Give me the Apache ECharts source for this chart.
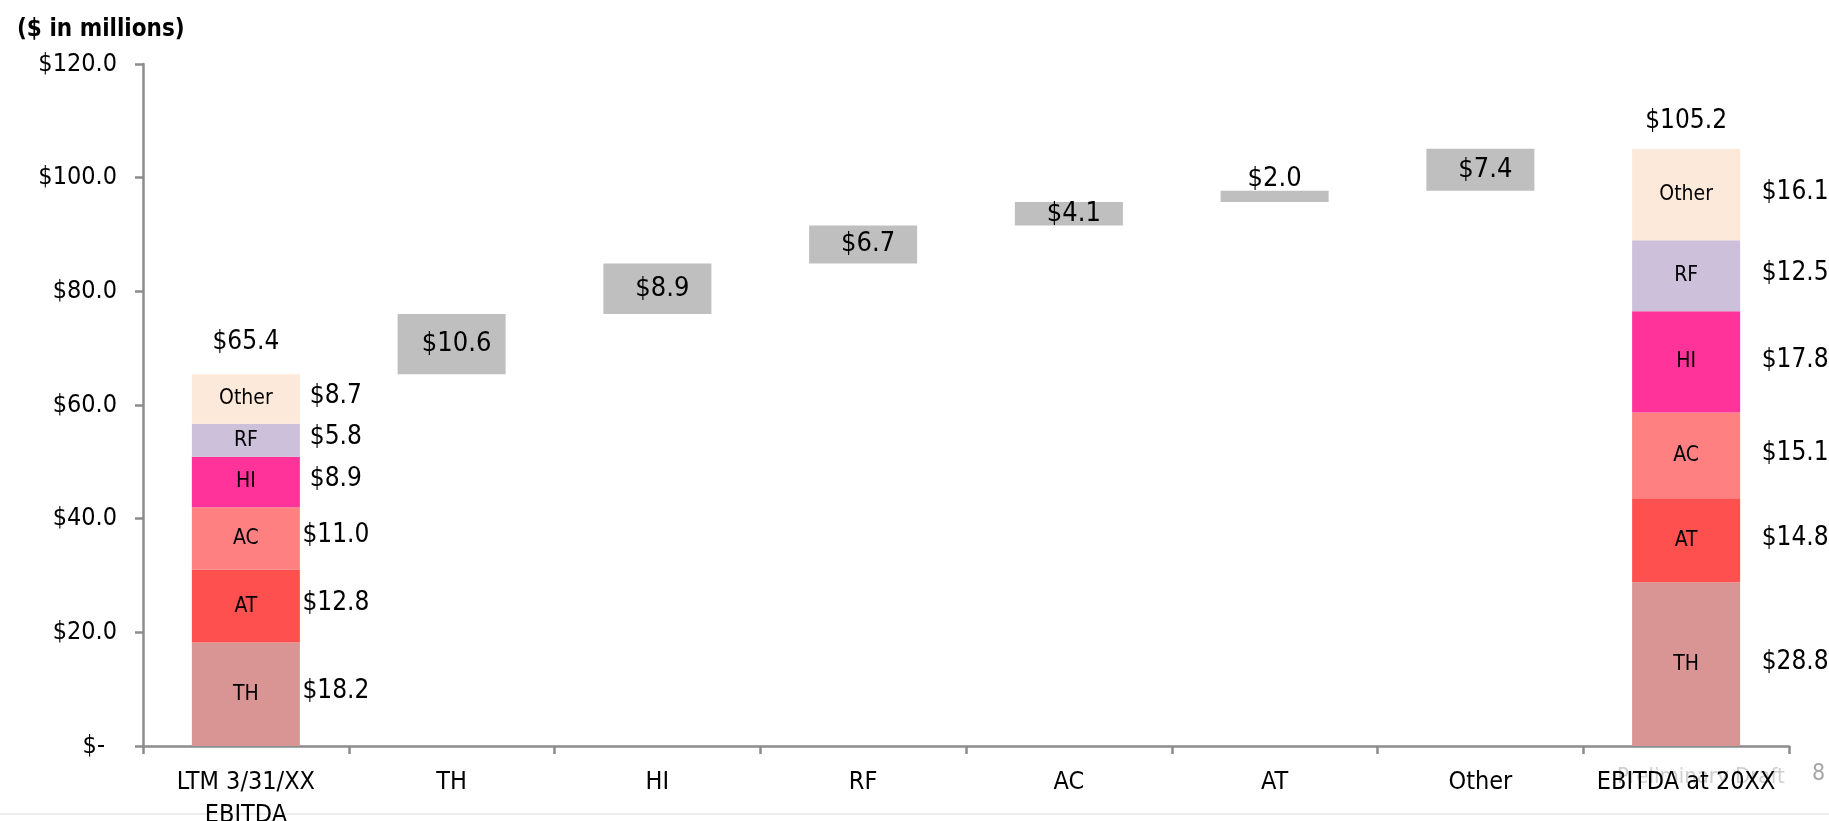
<!DOCTYPE html>
<html>
<head>
<meta charset="utf-8">
<script src="https://cdn.jsdelivr.net/npm/echarts@6/dist/echarts.min.js"></script>
<style>
  html, body { margin: 0; padding: 0; background: #fff; }
  #chart { width: 1829px; height: 821px; }
</style>
</head>
<body>
<div id="chart"></div>
<script>
// EBITDA bridge: LTM segment build, step-ups by segment, projected segment build
const categories = ['LTM 3/31/XX\nEBITDA', 'TH', 'HI', 'RF', 'AC', 'AT', 'Other', 'EBITDA at 20XX'];
const segmentNames = ['TH', 'AT', 'AC', 'HI', 'RF', 'Other'];
const startSegments = [18.2, 12.8, 11.0, 8.9, 5.8, 8.7];
const endSegments = [28.8, 14.8, 15.1, 17.8, 12.5, 16.1];
const bridgeSteps = [10.6, 8.9, 6.7, 4.1, 2.0, 7.4];
const totalLabels = [65.4, 105.2];
const yTickLabels = ['$-', '$20.0', '$40.0', '$60.0', '$80.0', '$100.0', '$120.0'];

const segmentColors = ['#D99594', '#FF5050', '#FF8080', '#FF3399', '#CCC0DA', '#FDE9D9'];
const stepColor = '#BFBFBF';
const FONT = "'DejaVu Sans Condensed', 'DejaVu Sans', sans-serif";
const axisColor = '#8C8C8C';

const last = categories.length - 1;
const money = v => '$' + Number(v).toFixed(1);

// invisible base + visible step for each floating bar
const startTotal = startSegments.reduce((a, b) => a + b, 0);
const baseData = ['-'];
const stepData = ['-'];
let running = startTotal;
bridgeSteps.forEach(v => {
  baseData.push(+running.toFixed(1));
  stepData.push(v);
  running += v;
});
baseData.push('-');
stepData.push('-');

const series = [];

series.push({
  name: 'base', type: 'bar', stack: 'w', barWidth: '52.5%', barGap: '-100%',
  silent: true, itemStyle: { color: 'transparent' }, data: baseData
});

// stacked segment bars with the segment name inside
segmentNames.forEach((name, i) => {
  series.push({
    name: name, type: 'bar', stack: 'w', barWidth: '52.5%', barGap: '-100%', silent: true,
    itemStyle: { color: segmentColors[i] },
    label: {
      show: true, position: 'inside', formatter: name,
      fontFamily: FONT, fontSize: 21, color: '#000'
    },
    data: categories.map((_, c) => c === 0 ? startSegments[i] : (c === last ? endSegments[i] : '-'))
  });
});

// grey step bars
series.push({
  name: 'step', type: 'bar', stack: 'w', barWidth: '52.5%', barGap: '-100%', silent: true,
  itemStyle: { color: stepColor },
  label: {
    show: true, position: 'inside', offset: [5, 0], formatter: p => money(p.value),
    fontFamily: FONT, fontSize: 27, color: '#000'
  },
  data: stepData.map(v => (v !== '-' && v < 3)
    ? { value: v, label: { position: 'top', distance: 0, offset: [0, 2] } }
    : v)
});

// zero-height cap carrying the column totals
series.push({
  name: 'total', type: 'bar', stack: 'w', barWidth: '52.5%', barGap: '-100%', silent: true,
  itemStyle: { color: 'transparent' },
  label: {
    show: true, position: 'top', fontFamily: FONT, fontSize: 26, color: '#000',
    formatter: p => money(p.dataIndex === 0 ? totalLabels[0] : totalLabels[1])
  },
  data: categories.map((_, c) => c === 0 ? { value: 0, label: { distance: 19 } }
    : (c === last ? { value: 0, label: { distance: 14 } } : '-'))
});

// transparent overlay stack carrying the segment values beside each column
segmentNames.forEach((name, i) => {
  series.push({
    name: name + ' value', type: 'bar', stack: 'v', barWidth: '52.5%', barGap: '-100%', silent: true,
    itemStyle: { color: 'transparent' },
    label: {
      show: true, position: ['100%', '50%'], align: 'center', verticalAlign: 'middle',
      fontFamily: FONT, fontSize: 26, color: '#000', formatter: p => money(p.value)
    },
    data: categories.map((_, c) => c === 0 ? { value: startSegments[i], label: { offset: [36, -3] } }
      : (c === last ? { value: endSegments[i], label: { offset: [55, -2] } } : '-'))
  });
});

const chart = echarts.init(document.getElementById('chart'), null, { renderer: 'canvas' });
chart.setOption({
  animation: false,
  backgroundColor: '#fff',
  title: {
    text: '($ in millions)', left: 12, top: 13,
    textStyle: { fontFamily: FONT, fontWeight: 'bold', fontSize: 24, color: '#000' }
  },
  grid: { left: 143, right: 40, top: 64, bottom: 75, containLabel: false, outerBoundsMode: 'none' },
  xAxis: {
    type: 'category', data: categories,
    axisLine: { show: true, lineStyle: { color: axisColor, width: 2.5 } },
    axisTick: { show: true, length: 8, lineStyle: { color: axisColor, width: 2.5 } },
    axisLabel: { fontFamily: FONT, fontSize: 25, color: '#000', margin: 20, lineHeight: 33, interval: 0 }
  },
  yAxis: {
    type: 'value', min: 0, max: 120, interval: 20,
    axisLine: { show: true, lineStyle: { color: axisColor, width: 2.5 } },
    axisTick: { show: true, length: 8, lineStyle: { color: axisColor, width: 2.5 } },
    splitLine: { show: false },
    axisLabel: {
      fontFamily: FONT, fontSize: 25, color: '#000', margin: 26,
      formatter: v => {
        const t = yTickLabels[Math.round(v / 20)];
        return v === 0 ? '{z|' + t + '}' : t;
      },
      rich: { z: { fontFamily: FONT, fontSize: 25, color: '#000', padding: [0, 12, 0, 0] } }
    }
  },
  graphic: [
    { type: 'line', z: -1, shape: { x1: 0, y1: 814, x2: 1829, y2: 814 }, style: { stroke: '#D9D9D9', lineWidth: 1 } },
    { type: 'text', z: -1, left: 1617, top: 766, style: { text: 'Preliminary Draft', font: "22px " + FONT, fill: '#D0D0D0' } },
    { type: 'text', z: -1, left: 1812, top: 763, style: { text: '8', font: "23px " + FONT, fill: '#A6A6A6' } }
  ],
  series: series
});
</script>
</body>
</html>
